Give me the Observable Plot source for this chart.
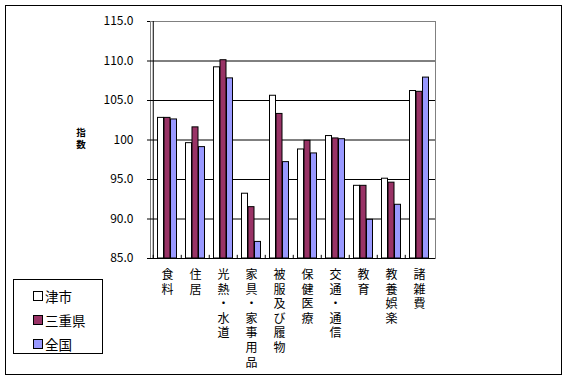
<!DOCTYPE html>
<html><head><meta charset="utf-8">
<script src="https://cdn.jsdelivr.net/npm/d3@7"></script>
<script src="https://cdn.jsdelivr.net/npm/@observablehq/plot@0.6"></script>
<style>
body{margin:0;background:#fff;font-family:"Noto Sans CJK JP","Noto Sans",sans-serif;}
#wrap{position:relative;width:567px;height:379px;overflow:hidden;}
#wrap svg{position:absolute;left:0;top:0;}
.border{position:absolute;left:5px;top:5px;width:557px;height:370px;border:1px solid #000;box-sizing:border-box;}
.ylab{position:absolute;left:75px;top:126px;width:12px;font-size:9.5px;font-weight:bold;line-height:12px;text-align:center;}
.legend{position:absolute;left:13px;top:279px;width:90px;height:75px;border:1px solid #000;box-sizing:border-box;}
.item{position:absolute;left:19px;height:16px;font-size:13.5px;line-height:16px;display:flex;align-items:center;}
.sw{width:8px;height:8px;border:1px solid #000;margin-right:2px;}
</style></head>
<body>
<div id="wrap"><div class="border"></div><div class="ylab">指<br>数</div><div class="legend" id="legend"></div></div>
<script>
const categories = ["食料","住居","光熱・水道","家具・家事用品","被服及び履物","保健医療","交通・通信","教育","教養娯楽","諸雑費"];
const seriesNames = ["津市","三重県","全国"];
const tsu     = [102.8, 99.6, 109.2, 93.2, 105.6, 98.8, 100.5, 94.2, 95.1, 106.2];
const mie     = [102.8, 101.6, 110.1, 91.5, 103.3, 99.9, 100.2, 94.2, 94.6, 106.1];
const zenkoku = [102.6, 99.1, 107.8, 87.1, 97.2, 98.3, 100.1, 89.9, 91.8, 107.9];
const yTicks = [85, 90, 95, 100, 105, 110, 115];
const colors = ["#FFFFFF", "#993366", "#9999FF"];

const seriesValues = [tsu, mie, zenkoku];
const W = 567, H = 379, mL = 150, mR = 132, mT = 21, mB = 121;
const step = (W - mL - mR) / categories.length;
const barW = 6.5;
const off = (step - 3 * barW) / 2;

const barMarks = seriesValues.map((vals, i) =>
  Plot.barY(categories.map((c, j) => ({category: c, value: vals[j]})), {
    x: "category", y1: 85, y2: "value",
    fill: colors[i], stroke: "#000", strokeWidth: 1,
    insetLeft: off + barW * i, insetRight: step - off - barW * (i + 1)
  })
);

const chart = Plot.plot({
  width: W, height: H,
  marginLeft: mL, marginRight: mR, marginTop: mT, marginBottom: mB,
  style: {fontFamily: '"Noto Sans CJK JP","Noto Sans",sans-serif', background: "transparent", color: "#000"},
  x: {domain: categories, padding: 0, axis: null},
  y: {domain: [85, 115], axis: null},
  marks: [
    Plot.frame({stroke: "#808080"}),
    Plot.ruleY(yTicks.filter(t => t > 85 && t < 115), {stroke: "#000"}),
    ...barMarks,
    Plot.ruleY([85], {stroke: "#000"}),
    Plot.ruleX([categories[0]], {x: d => d, dx: -step / 2, y1: 85, y2: 115, stroke: "#000"}),
    Plot.ruleX(categories, {x: d => d, dx: -step / 2, y1: 85, y2: 85.4, stroke: "#000"}),
    Plot.axisY({ticks: yTicks, tickFormat: d => d === 100 ? "100" : d.toFixed(1), tickSize: 3, tickPadding: 14, fontSize: 12, label: null}),
    Plot.text(categories, {x: d => d, frameAnchor: "bottom", text: d => [...d].join("\n"), lineAnchor: "top", dy: 10, lineHeight: 1.22, fontSize: 12, fill: "#000"})
  ]
});
document.getElementById("wrap").insertBefore(chart, document.querySelector(".border"));

const legend = document.getElementById("legend");
const tops = [8, 31.5, 55.5];
seriesNames.forEach((n, i) => {
  const it = document.createElement("div");
  it.className = "item";
  it.style.top = tops[i] + "px";
  it.innerHTML = `<span class="sw" style="background:${colors[i]}"></span>${n}`;
  legend.appendChild(it);
});
</script>
</body></html>
